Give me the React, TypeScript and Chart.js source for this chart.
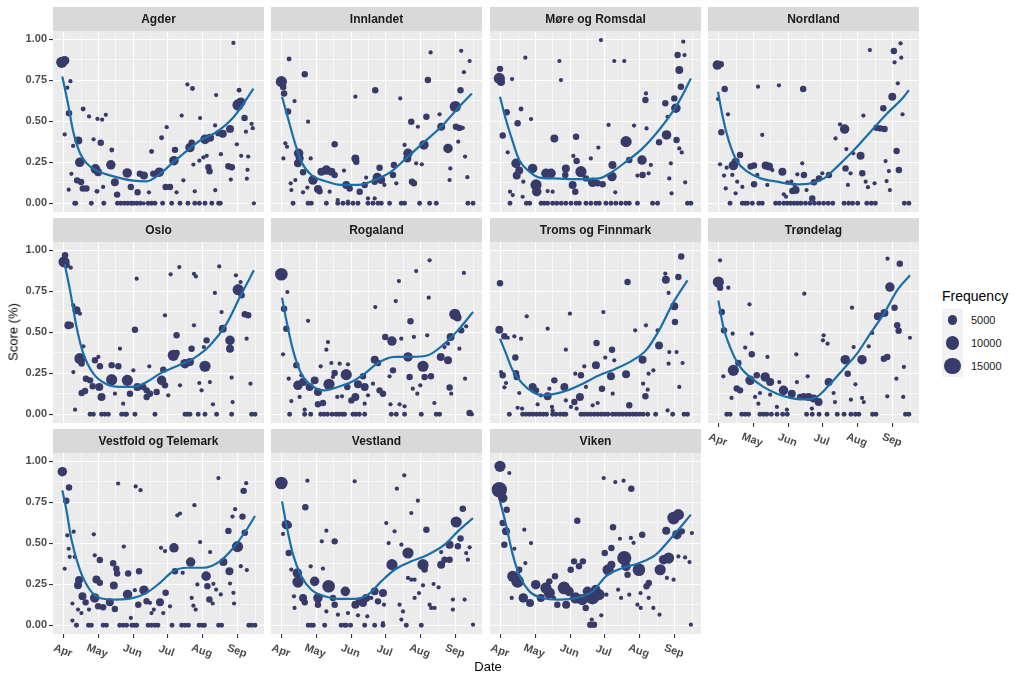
import React, { useEffect, useRef } from 'react';
import { Chart, registerables } from 'chart.js';
Chart.register(...registerables);

type Pt = [number, number, number]; // [days since 1 Apr, score, frequency]
type SP = [number, number]; // [days since 1 Apr, smoothed score]

const monthTicks = [0, 30, 61, 91, 122, 153];
const monthLabels = ['Apr', 'May', 'Jun', 'Jul', 'Aug', 'Sep'];
const monthMinor = [15, 45.5, 76, 106.5, 137.5, 168];
const scoreTicks = [0, 0.25, 0.5, 0.75, 1];
const scoreLabels = ['0.00', '0.25', '0.50', '0.75', '1.00'];
const scoreMinor = [0.125, 0.375, 0.625, 0.875];
const legendValues = [5000, 10000, 15000];

const agderPoints: Pt[] = [[-2,0.86,6500],[0.5,0.87,4500],[5.6,0.745,600],[2.9,0.705,600],[4.4,0.55,1800],[0.6,0.42,600],[16.8,0.575,900],[8,0.35,600],[12.6,0.383,3000],[13.8,0.25,4500],[6.5,0.18,600],[4.1,0.083,600],[11.5,0.14,1800],[15,0.13,1800],[16.5,0.09,1800],[19.7,0.09,1800],[22,0.53,600],[26,0.39,600],[29.4,0.515,600],[33.5,0.51,600],[36.8,0.54,600],[32.3,0.37,1800],[27.6,0.21,4500],[30,0.19,3000],[29,0.073,900],[34.4,0.1,600],[41.2,0.235,4500],[42,0.325,900],[44.7,0.128,3000],[46.7,0.053,1800],[55.6,0.185,4500],[58.8,0.1,1800],[64.7,0.067,1800],[66.7,0.18,1800],[70.3,0.17,3000],[77,0.316,900],[78.5,0.18,1800],[74.7,0.067,600],[83.8,0.19,4500],[85.8,0.4,900],[90.3,0.464,600],[89.4,0.1,1800],[93.2,0.1,1800],[97.6,0.326,1800],[96.7,0.26,4500],[99,0.067,600],[103.5,0.535,600],[105,0.14,600],[108.5,0.725,600],[113,0.7,900],[110.8,0.34,4500],[112.3,0.37,1800],[113.8,0.236,600],[115,0.073,600],[119.7,0.52,600],[119,0.26,600],[122.6,0.28,600],[125.5,0.29,600],[124,0.39,4500],[128.5,0.4,3000],[127,0.22,1800],[128,0.196,1800],[133,0.08,600],[133.8,0.66,600],[132.9,0.475,600],[138,0.3,600],[135.8,0.428,1800],[139.6,0.424,3000],[146,0.454,3000],[144.6,0.226,1800],[147.6,0.22,1800],[146.7,0.145,600],[149,0.978,600],[154,0.69,900],[152,0.36,600],[153,0.6,6500],[155.5,0.617,4500],[158.8,0.52,1800],[160,0.437,600],[155.8,0.29,600],[162,0.285,600],[161.4,0.204,600],[160.8,0.15,600],[165,0.485,600],[166,0.458,600],[167,0,600],[9.4,0,900],[10.3,0,900],[24,0,900],[35,0,900],[47,0,900],[50,0,900],[53,0,900],[56,0,900],[59,0,900],[61,0,900],[64,0,900],[67,0,900],[70,0,600],[74,0,900],[77,0,900],[80,0,900],[86.7,0,900],[94.7,0,900],[102,0,900],[109,0,900],[115,0,900],[119,0,900],[124,0,900],[130,0,900],[136,0,900],[137.5,0,900]];
const agderSmooth: SP[] = [[-1.5,0.774],[3.5,0.607],[8,0.44],[13.8,0.31],[19.7,0.245],[28.5,0.2],[46,0.16],[61,0.138],[72.6,0.134],[84.4,0.18],[96,0.25],[108,0.32],[119.7,0.383],[134,0.434],[149,0.525],[166.7,0.7]];

const innlandetPoints: Pt[] = [[-0.6,0.742,6500],[1,0.71,1800],[1.8,0.67,1800],[6.2,0.88,900],[11,0.624,600],[5.3,0.56,1800],[20,0.787,1800],[22.9,0.498,600],[2.9,0.366,600],[4.4,0.345,600],[1.2,0.274,600],[14.6,0.305,4500],[14,0.244,3000],[15.5,0.275,3000],[18.5,0.19,1800],[25.2,0.274,600],[7.6,0.122,600],[8.2,0.081,600],[11.7,0.142,600],[18.5,0.067,600],[22.3,0.096,600],[27.2,0.142,4500],[31.6,0.087,3000],[33,0.073,1800],[34.6,0.193,3000],[39,0.203,4500],[43.4,0.193,3000],[46.3,0.173,1800],[41.9,0.071,600],[46.3,0.36,1800],[54.5,0.2,600],[56.5,0.112,3000],[59.5,0.09,1800],[64.5,0.65,600],[64.5,0.274,3000],[65.3,0.254,1800],[68.3,0.071,1800],[72.7,0.112,1800],[74,0.157,600],[82,0.69,1800],[81.5,0.132,1800],[83.8,0.157,4500],[87.3,0.142,3000],[85.8,0.217,1800],[90,0.112,600],[98.4,0.234,1800],[97.6,0.173,1800],[100.5,0.122,600],[104,0.64,600],[107.8,0.356,600],[110.8,0.305,4500],[110.2,0.274,3000],[113.7,0.498,1800],[114.3,0.132,1800],[116,0.122,1800],[118,0.244,600],[123,0.238,600],[119.5,0.467,600],[124.8,0.356,4500],[127,0.528,1800],[128.3,0.752,1800],[130.7,0.92,600],[138.6,0.543,600],[140,0.467,3000],[146,0.335,4500],[148,0.213,600],[147.4,0.142,600],[152.4,0.59,6500],[153,0.467,1800],[156,0.46,1800],[159,0.46,600],[155,0.376,600],[157,0.69,1800],[160,0.8,600],[157.6,0.93,600],[165,0.868,600],[161,0.285,600],[163,0.159,600],[49,0.02,600],[58,0.01,600],[75.6,0.03,600],[81.5,0.03,600],[9.7,0,900],[22.9,0,900],[25.8,0,900],[39,0,900],[49,0,900],[53.6,0,900],[58,0,900],[62.4,0,900],[66.8,0,900],[75.6,0,900],[80,0,900],[84.4,0,900],[87.3,0,900],[94.6,0,900],[104.9,0,900],[107.8,0,900],[121,0,900],[129.8,0,900],[135.7,0,900],[163.5,0,900],[168,0,900]];
const innlandetSmooth: SP[] = [[0,0.65],[5.3,0.518],[11,0.376],[17,0.254],[25.8,0.173],[37.5,0.136],[52,0.112],[66.8,0.112],[81.5,0.142],[96,0.193],[110.8,0.285],[125.4,0.376],[140,0.467],[154.7,0.58],[167,0.67]];

const moreRomsdalPoints: Pt[] = [[-1.5,0.762,6500],[0,0.74,3000],[-0.9,0.82,1800],[9.7,0.758,600],[21.4,0.888,600],[5,0.555,1800],[17.6,0.575,900],[14.6,0.488,1800],[26.4,0.514,600],[1.5,0.413,1800],[5.9,0.311,600],[13.2,0.244,4500],[16,0.2,3000],[13.8,0.17,3000],[19.6,0.132,600],[27.8,0.213,4500],[30.8,0.112,6500],[31.4,0.071,4500],[7.9,0.071,600],[10.3,0.05,600],[19,0.04,600],[39.5,0.183,4500],[44,0.183,4500],[41,0.075,600],[45.4,0.071,600],[46.9,0.396,3000],[51.3,0.868,600],[52.7,0.752,600],[57,0.213,3000],[56.5,0.173,1800],[63.6,0.289,600],[66.5,0.258,1800],[63,0.112,3000],[65.3,0.071,1800],[70.3,0.193,6500],[66,0.406,1800],[74.7,0.152,1800],[79,0.274,600],[80.6,0.128,4500],[85,0.122,1800],[89.4,0.116,1800],[85.6,0.34,600],[87.9,0.996,600],[94.6,0.478,600],[98,0.234,3000],[97.6,0.163,4500],[99.6,0.868,600],[108.4,0.868,600],[100.5,0.067,600],[110,0.376,6500],[112.8,0.264,1800],[117,0.474,600],[120,0.169,600],[124.5,0.173,1800],[129.8,0.183,600],[124,0.264,4500],[127.5,0.67,600],[127,0.63,1800],[128,0.457,600],[131.8,0.234,600],[139,0.372,1800],[144.5,0.61,1800],[145.6,0.417,4500],[146.5,0.528,600],[148,0.152,600],[149.4,0.244,600],[150,0.061,600],[152.4,0.64,1800],[153.8,0.58,4500],[154.4,0.386,1800],[156.8,0.813,3000],[158.2,0.711,1800],[155.3,0.904,1800],[161.4,0.904,600],[160.3,0.986,600],[156.8,0.335,600],[159,0.31,600],[162,0.128,600],[7.9,0,900],[22.3,0,900],[25.2,0,900],[35.2,0,900],[38,0,900],[41,0,900],[45.4,0,900],[49,0,900],[53,0,900],[57,0,900],[61.5,0,900],[66,0,900],[68.9,0,900],[74.7,0,900],[79,0,900],[83.5,0,900],[86.4,0,900],[92.3,0,900],[96.7,0,900],[101,0,900],[105.5,0,900],[109.8,0,900],[112.8,0,900],[120,0,900],[133.3,0,900],[137.7,0,900],[164,0,900],[167,0,900]];
const moreRomsdalSmooth: SP[] = [[-0.9,0.65],[4.4,0.508],[10.3,0.376],[16,0.264],[25,0.193],[33.7,0.157],[45.4,0.152],[60,0.148],[74.7,0.148],[86.4,0.152],[98,0.193],[110,0.254],[124.5,0.335],[139,0.447],[151,0.559],[159.7,0.66],[167,0.762]];

const nordlandPoints: Pt[] = [[-1.5,0.843,4500],[1.5,0.848,1800],[5,0.697,1800],[-0.9,0.636,600],[7.9,0.543,600],[2,0.433,1800],[0.9,0.238,600],[6.7,0.217,600],[4.4,0.169,600],[5.9,0.091,600],[12.6,0.23,4500],[14.6,0.254,3000],[18.5,0.295,1800],[11.7,0.173,600],[16,0.132,600],[14.6,0.061,600],[20.5,0.1,600],[27.8,0.224,1800],[30.8,0.23,1800],[34.3,0.711,600],[38,0.417,600],[30.8,0.116,1800],[33.7,0.173,600],[41,0.23,3000],[44,0.224,3000],[46.9,0.203,600],[42.5,0.112,600],[52.7,0.72,600],[55.7,0.193,3000],[57,0.055,600],[59,0.04,600],[60,0.128,600],[63.6,0.132,600],[66.5,0.112,600],[68.9,0.177,600],[67.4,0.081,3000],[64.5,0.075,1800],[73.2,0.244,600],[74,0.697,1800],[74.7,0.173,1800],[77,0.081,600],[83.5,0.128,1800],[82,0.03,1800],[87.9,0.152,1800],[90.8,0.183,600],[96.7,0.173,1800],[102.5,0.396,600],[106.4,0.482,600],[110.5,0.453,4500],[111.3,0.213,1800],[112,0.331,600],[115.7,0.183,600],[113.4,0.112,600],[118,0.305,600],[124.5,0.29,3000],[126,0.183,1800],[127,0.535,600],[129,0.132,600],[131,0.098,600],[132.7,0.935,600],[136.8,0.122,600],[138.6,0.461,1800],[142,0.457,1800],[145.6,0.453,1800],[144.5,0.58,1800],[146.5,0.258,600],[149.4,0.197,600],[147.4,0.136,600],[150.3,0.081,600],[152.4,0.65,3000],[153.8,0.929,1800],[154.4,0.86,600],[157.3,0.732,600],[159.7,0.976,600],[160.3,0.888,600],[156.2,0.319,1800],[158.2,0.203,1800],[161.4,0.543,600],[9.7,0,900],[20.5,0,900],[23,0,900],[25,0,900],[29.3,0,900],[35,0,900],[38,0,900],[49.8,0,900],[53,0,900],[57,0,900],[60,0,900],[63,0,900],[66,0,900],[69,0,900],[72,0,900],[76,0,900],[80,0,900],[84,0,900],[88,0,900],[92,0,900],[96,0,900],[100,0,900],[110,0,900],[114,0,900],[117.5,0,900],[122,0,900],[130,0,900],[134,0,900],[137.5,0,900],[163,0,900],[167,0,900]];
const nordlandSmooth: SP[] = [[-0.9,0.68],[2.9,0.539],[8.8,0.376],[16,0.254],[25,0.193],[36.6,0.152],[51,0.132],[66,0.116],[80.6,0.122],[92.3,0.152],[104,0.224],[118.7,0.325],[133.3,0.437],[148,0.549],[162.6,0.65],[167,0.69]];

const osloPoints: Pt[] = [[0.9,0.97,1800],[0,0.93,6500],[2.3,0.91,1800],[5.9,0.894,600],[8.2,0.665,600],[11,0.634,3000],[14,0.614,600],[3.8,0.543,3000],[5.9,0.543,1800],[17,0.415,600],[8.2,0.258,600],[14,0.34,6500],[15.5,0.31,1800],[9.7,0.028,600],[19.3,0.217,1800],[22.9,0.207,1800],[15.5,0.13,1800],[18.5,0.142,1800],[27.2,0.33,1800],[30.2,0.35,600],[31.6,0.293,1800],[31,0.167,3000],[25.2,0.171,1800],[33,0.106,3000],[41.9,0.3,1800],[47.8,0.293,1800],[49.2,0.4,600],[41.9,0.211,6500],[44.8,0.126,600],[52,0.065,600],[55.7,0.207,6500],[58,0.126,1800],[61,0.268,600],[62.4,0.516,1800],[63.9,0.827,600],[64.5,0.167,3000],[69.7,0.167,1800],[72.7,0.146,1800],[72.7,0.106,1800],[75.6,0.126,1800],[75,0.293,600],[81.5,0.136,1800],[85.8,0.207,4500],[88.8,0.177,1800],[87.3,0.272,1800],[88.8,0.604,600],[91.7,0.116,600],[93.8,0.854,600],[96.1,0.36,6500],[99,0.374,1800],[99,0.482,1800],[102,0.177,600],[101.4,0.898,600],[106.4,0.309,4500],[110.8,0.319,3000],[112.2,0.4,1800],[114.3,0.543,600],[116,0.841,600],[114.3,0.857,600],[119,0.191,600],[121,0.146,600],[123,0.41,600],[124,0.293,6500],[125.4,0.451,1800],[128.3,0.197,600],[132.7,0.74,600],[131,0.061,600],[136.5,0.902,600],[138.6,0.624,600],[139.6,0.522,3000],[146,0.451,4500],[146,0.4,3000],[147.4,0.224,600],[148.3,0.075,600],[151.2,0.848,600],[153.2,0.76,6500],[156.2,0.726,1800],[155.3,0.807,600],[159,0.61,1800],[162,0.604,1800],[160.6,0.461,600],[164,0.187,600],[22.9,0,900],[25.8,0,900],[33,0,900],[36,0,900],[39,0,900],[50.7,0,900],[53.6,0,900],[55,0,900],[62.4,0,900],[80,0,900],[106.4,0,900],[108.4,0,900],[110.8,0,900],[118,0,900],[124,0,900],[134.2,0,900],[147.4,0,900],[165,0,900],[168,0,900]];
const osloSmooth: SP[] = [[0.6,0.915],[5.3,0.756],[11,0.533],[17,0.37],[25.8,0.248],[37.5,0.183],[49.2,0.167],[61,0.167],[72.7,0.197],[84.4,0.248],[99,0.293],[113.7,0.34],[128.3,0.42],[143,0.553],[154.7,0.715],[167,0.878]];

const rogalandPoints: Pt[] = [[-0.6,0.854,8500],[4.7,0.746,600],[1.8,0.644,1800],[3.8,0.522,1800],[0.9,0.366,600],[5.9,0.217,600],[12.6,0.3,1800],[22.9,0.57,600],[17,0.238,600],[14,0.177,4500],[18.5,0.197,3000],[15.5,0.106,600],[8.2,0.081,600],[19.9,0.028,600],[24.3,0.167,3000],[28.7,0.207,3000],[31.6,0.136,3000],[34,0.293,600],[31.6,0.061,1800],[36,0.069,1800],[39,0.394,600],[40.4,0.441,600],[41.3,0.183,6500],[43.4,0.313,600],[44.8,0.228,600],[46.3,0.252,1800],[50.7,0.309,600],[48.6,0.106,600],[52.7,0.11,600],[56.5,0.242,6500],[58,0.305,600],[57.4,0.167,1800],[64.5,0.106,3000],[61,0.085,1800],[66.8,0.183,3000],[71.2,0.232,1800],[72.7,0.167,3000],[75.6,0.116,600],[72.7,0.065,600],[80,0.187,600],[82,0.654,600],[81.5,0.333,3000],[84.4,0.313,1800],[85.8,0.146,1800],[88.8,0.126,1800],[90.8,0.472,1800],[94.6,0.232,600],[96.7,0.447,4500],[97.6,0.268,1800],[100,0.691,600],[102.8,0.813,600],[104.9,0.461,600],[95.4,0.061,600],[103.4,0.061,600],[107.8,0.049,600],[110.8,0.35,4500],[112.2,0.228,1800],[113,0.567,1800],[115,0.156,600],[116,0.472,600],[118,0.874,600],[119,0.126,600],[121.6,0.177,600],[124,0.293,6500],[125.4,0.228,1800],[131,0.232,1800],[127.7,0.482,600],[129,0.711,600],[129.8,0.939,600],[134,0.069,600],[139.6,0.35,3000],[146,0.33,3000],[142.9,0.41,600],[146,0.431,600],[147.4,0.163,1800],[148.8,0.126,600],[148.3,0.472,3000],[152,0.61,6500],[154.4,0.59,3000],[156,0.4,600],[157.6,0.512,1800],[160,0.862,600],[161,0.217,600],[162,0.537,600],[165,0.008,1800],[167,0,600],[6.7,0,900],[19.9,0,900],[25.2,0,900],[34,0,900],[37,0,900],[40,0,900],[44,0,900],[47.5,0,900],[50,0,900],[53,0,900],[55,0,900],[62.4,0,900],[65,0,900],[68,0,900],[72.7,0,900],[96.1,0,900],[100.5,0,900],[107.8,0,900],[122.5,0,900],[135.7,0,900],[138.6,0,900]];
const rogalandSmooth: SP[] = [[0,0.711],[3.8,0.573],[9.7,0.39],[17,0.248],[25.8,0.177],[37.5,0.146],[49.2,0.167],[61,0.197],[72.7,0.248],[84.4,0.313],[99,0.35],[113.7,0.35],[128.3,0.36],[143,0.431],[154.7,0.512],[168,0.624]];

const tromsPoints: Pt[] = [[-0.9,0.8,1800],[-1.5,0.516,3000],[2.9,0.476,1800],[5.9,0.467,600],[11.7,0.476,600],[17.6,0.461,600],[22.6,0.598,600],[12.6,0.346,1800],[0,0.258,600],[1.5,0.238,1800],[4.4,0.191,600],[3,0.165,600],[13.8,0.228,1800],[13.2,0.25,1800],[16,0.13,600],[27.8,0.167,3000],[30.8,0.146,1800],[14.6,0.04,600],[18.5,0.035,600],[32.2,0.061,600],[41,0.522,600],[41,0.11,3000],[42.5,0.156,600],[35,0.116,600],[45.4,0.024,600],[44.8,0.045,600],[46.9,0.207,1800],[55.7,0.167,3000],[57,0.394,600],[57,0.085,600],[60.6,0.614,600],[61.5,0.045,600],[65.3,0.248,600],[70.3,0.238,1800],[64.5,0.075,1800],[66.5,0.035,600],[69.4,0.106,3000],[73.2,0.293,600],[74.7,0.167,600],[80.6,0.055,600],[85,0.069,600],[84,0.435,1800],[83.5,0.3,3000],[88.8,0.156,1800],[90,0.624,600],[91.7,0.346,600],[96.7,0.232,3000],[97.6,0.394,1800],[99.6,0.329,600],[98.2,0.126,600],[110,0.244,3000],[111.3,0.807,1800],[112.8,0.055,1800],[118,0.512,600],[124.5,0.333,3000],[125,0.187,600],[127.5,0.543,600],[127,0.11,1800],[129,0.15,600],[129.8,0.248,600],[134,0.268,600],[137.7,0.512,600],[139,0.42,3000],[144.5,0.858,600],[145,0.821,3000],[147.4,0.74,600],[148,0.38,600],[147.4,0.309,600],[146.5,0.024,600],[152.4,0.659,3000],[153,0.563,1800],[154.4,0.38,600],[156,0.837,1800],[158.5,0.963,1800],[156.8,0.167,600],[159.7,0.313,600],[7.3,0,900],[19,0,900],[22,0,900],[25,0,900],[28,0,900],[31,0,900],[34,0,900],[37,0,900],[40,0,900],[45.4,0,900],[48.3,0,900],[52,0,900],[55,0,900],[57,0,900],[70.3,0,900],[73,0,900],[76,0,900],[79,0,900],[82,0,900],[85,0,900],[88,0,900],[91,0,900],[94,0,900],[98,0,900],[101,0,900],[104,0,900],[107,0,900],[110,0,900],[113,0,900],[116,0,900],[119,0,900],[122,0,900],[125,0,900],[129,0,900],[136,0,900],[151,0,900],[161,0,900],[164,0,900]];
const tromsSmooth: SP[] = [[-0.9,0.461],[4.4,0.37],[10.3,0.268],[19,0.187],[27.8,0.136],[36.6,0.116],[48.3,0.126],[60,0.15],[71.8,0.187],[86.4,0.238],[101,0.278],[115.7,0.329],[127.5,0.39],[139,0.512],[151,0.675],[164,0.817]];

const trondelagPoints: Pt[] = [[0.9,0.939,600],[-0.6,0.807,6500],[0.9,0.772,1800],[8.2,0.772,600],[2.4,0.624,1800],[4.4,0.512,1800],[12,0.492,600],[3.8,0.232,600],[12.6,0.268,6500],[17,0.313,1800],[15.6,0.157,1800],[18.5,0.146,1800],[11,0.1,600],[23,0.407,600],[26.8,0.671,600],[27.3,0.207,4500],[33.2,0.238,1800],[28.8,0.492,600],[28.8,0.366,1800],[31.7,0.106,600],[34.6,0.065,600],[36,0.13,600],[40.6,0.228,4500],[45,0.197,3000],[42.6,0.35,600],[45,0.12,600],[50.9,0.045,600],[53,0.197,600],[56.7,0.146,4500],[59.7,0.028,600],[64,0.126,3000],[68,0.366,600],[68.5,0.197,600],[71.4,0.106,1800],[74.4,0.11,1800],[75,0.736,600],[78,0.232,600],[78.8,0.106,3000],[83.2,0.096,3000],[87.6,0.075,3000],[81.7,0.035,600],[91.4,0.451,600],[92,0.482,600],[95.5,0.431,600],[96.4,0.197,3000],[100.8,0.13,600],[102,0.075,600],[111,0.333,4500],[113.2,0.248,1800],[117,0.65,600],[118.4,0.41,600],[120,0.183,600],[116,0.089,600],[125.8,0.333,4500],[127.3,0.075,600],[125.8,0.1,600],[131.7,0.415,600],[134.7,0.496,600],[139.7,0.598,3000],[145.5,0.618,3000],[145,0.339,1800],[148,0.35,1800],[148,0.11,600],[150.3,0.776,4500],[148.2,0.949,600],[154.4,0.65,1800],[156.7,0.543,1800],[158,0.51,1800],[156,0.217,600],[162.6,0.289,600],[159,0.919,1800],[162,0.106,600],[167.9,0.467,600],[6.8,0,900],[9.7,0,900],[20,0,900],[23,0,900],[26,0,900],[36,0,900],[39,0,900],[42,0,900],[46,0,900],[51,0,900],[56,0,900],[60,0,900],[77,0,900],[82,0,900],[88,0,900],[95,0,900],[104,0,900],[110,0,900],[116,0,900],[120,0,900],[123,0,900],[135,0,900],[138,0,900],[164,0,900],[167,0,900]];
const trondelagSmooth: SP[] = [[-0.6,0.695],[3.8,0.533],[9.7,0.41],[18.5,0.289],[27.3,0.228],[39,0.167],[51,0.126],[62.6,0.1],[74.4,0.091],[86,0.106],[98,0.187],[109.7,0.278],[121.4,0.37],[133,0.492],[145,0.614],[156.7,0.756],[168,0.848]];

const vestfoldPoints: Pt[] = [[-1.5,0.937,4500],[2,0.76,1800],[4.4,0.84,1800],[2.9,0.549,600],[4.1,0.467,600],[5,0.418,600],[9.4,0.418,600],[8.5,0.571,600],[0.6,0.345,600],[13.2,0.276,3000],[12.3,0.245,3000],[16.2,0.178,3000],[19,0.14,1800],[7.4,0.133,600],[12.3,0.096,600],[15.3,0.075,600],[7.4,0.029,600],[11,0.002,600],[22,0.096,600],[26.2,0.555,600],[27,0.427,600],[28.5,0.28,3000],[31.5,0.26,1800],[27,0.167,4500],[30,0.116,1800],[34.4,0.11,1800],[31.5,0.398,1800],[43.2,0.378,1800],[46,0.345,1800],[46.7,0.316,1800],[43.8,0.243,3000],[40.3,0.141,3000],[44.7,0.1,1800],[47.6,0.865,600],[52.6,0.48,600],[56.4,0.316,1800],[55.9,0.188,4500],[58.8,0.045,600],[62.3,0.214,600],[63,0.847,600],[67.3,0.824,600],[66,0.33,1800],[65.3,0.126,1800],[70.3,0.214,4500],[72.6,0.147,1800],[75.6,0.137,600],[77,0.075,600],[79,0.096,600],[84.4,0.141,3000],[85.3,0.473,600],[88.8,0.453,600],[89.4,0.198,1800],[87.3,0.075,600],[93.2,0.116,600],[96.7,0.473,4500],[97.6,0.33,1800],[99.7,0.671,600],[102,0.682,600],[104.4,0.32,600],[111.4,0.386,4500],[112.3,0.167,600],[113.8,0.12,600],[115.8,0.096,600],[114.7,0.733,600],[117.3,0.249,600],[119.7,0.508,600],[125,0.3,4500],[126.1,0.239,1800],[128.5,0.447,600],[127.9,0.157,1800],[130.8,0.133,600],[131.4,0.253,600],[133.8,0.218,600],[135.8,0.898,600],[137.9,0.188,600],[140.2,0.386,3000],[144.6,0.576,1800],[145.5,0.33,3000],[146,0.255,600],[148.2,0.663,600],[149,0.198,600],[149.6,0.133,600],[150.5,0.708,600],[152.6,0.48,6500],[155.5,0.361,600],[157,0.663,1800],[158,0.82,1800],[160.2,0.867,600],[159,0.565,1800],[160.8,0.337,600],[10.9,0,900],[21.5,0,900],[24,0,900],[34.4,0,900],[37.3,0,900],[49,0,900],[52,0,900],[55,0,900],[59.7,0,900],[62,0,900],[63.9,0,900],[74,0,900],[77,0,900],[80,0,900],[82.6,0,900],[95,0,900],[103.5,0,900],[106.5,0,900],[109.5,0,900],[118.8,0,900],[121.6,0,900],[123.5,0,900],[136,0,900],[138.6,0,900],[162.5,0,900],[165,0,900],[168,0,900]];
const vestfoldSmooth: SP[] = [[-1.5,0.824],[2,0.708],[6.5,0.524],[13.8,0.341],[22.6,0.218],[31.5,0.167],[46,0.157],[61,0.167],[72.6,0.198],[84.4,0.259],[96,0.33],[108,0.351],[122.6,0.351],[137.3,0.392],[149,0.473],[160.8,0.586],[168,0.667]];

const vestlandPoints: Pt[] = [[-0.6,0.868,8500],[22.3,0.882,600],[20.5,0.72,1800],[63.9,0.878,600],[3.8,0.614,4500],[5.9,0.61,1800],[0.9,0.557,600],[39,0.577,600],[35,0.512,600],[46.3,0.512,1800],[5.9,0.441,1800],[8.2,0.34,600],[13.5,0.319,4500],[14,0.264,6500],[25.2,0.36,600],[10.5,0.177,600],[11,0.106,600],[18.5,0.167,3000],[20,0.14,1800],[28.7,0.268,4500],[36,0.346,600],[31.6,0.167,4500],[31.6,0.126,1800],[41,0.238,8500],[44.8,0.167,1800],[46.3,0.126,1800],[39,0.085,600],[49.2,0.065,600],[55.7,0.207,4500],[58,0.075,600],[64.5,0.126,3000],[68.3,0.146,3000],[71.2,0.136,3000],[74,0.167,3000],[66.8,0.061,600],[75,0.055,600],[78.5,0.167,600],[81.5,0.207,3000],[88.8,0.197,3000],[84.4,0.146,1800],[89.7,0.126,600],[88.8,0.014,600],[91.7,0.624,600],[93.8,0.502,600],[96.7,0.37,6500],[99,0.573,600],[101,0.833,600],[103.4,0.126,600],[105,0.492,600],[105,0.035,600],[106.4,0.085,600],[107.5,0.915,600],[110.8,0.441,6500],[110.8,0.289,600],[113.7,0.278,600],[116.6,0.278,600],[113.7,0.685,600],[116.6,0.167,600],[120.5,0.197,600],[119.5,0.76,600],[124,0.37,6500],[125.4,0.34,1800],[124,0.244,600],[127,0.583,1800],[129.8,0.126,600],[131.2,0.106,600],[133.3,0.252,600],[137.7,0.232,600],[134.2,0.106,600],[140,0.37,3000],[143,0.4,1800],[140,0.447,600],[147.4,0.4,1800],[147.4,0.492,3000],[150.3,0.157,600],[150.3,0.096,600],[153.2,0.63,6500],[154.7,0.482,1800],[157,0.53,1800],[159,0.711,1800],[160.6,0.157,600],[162,0.441,600],[163.5,0.4,600],[165,0.476,600],[168,0.004,600],[23,0,900],[25.5,0,900],[27.5,0,900],[37.5,0,900],[52,0,900],[55,0,900],[56.5,0,900],[60.3,0,900],[72.7,0,900],[81.5,0,900],[88.8,0,900],[109.3,0,900],[122.5,0,900]];
const vestlandSmooth: SP[] = [[0,0.756],[3.8,0.614],[9.7,0.431],[17,0.299],[25.8,0.217],[37.5,0.177],[49.2,0.161],[64,0.161],[75.6,0.187],[87.3,0.268],[99,0.339],[113.7,0.39],[128.3,0.431],[143,0.492],[154.7,0.573],[168,0.654]];

const vikenPoints: Pt[] = [[-0.9,0.97,6500],[7.3,0.929,600],[-1.5,0.827,13000],[1.5,0.776,4500],[5,0.705,1800],[1.5,0.624,1800],[4.4,0.573,3000],[2.9,0.492,1800],[11.7,0.467,600],[20.5,0.583,600],[26.4,0.502,600],[21.4,0.38,600],[16,0.339,1800],[10.3,0.299,6500],[14.6,0.268,8500],[9.4,0.167,600],[19.6,0.167,4500],[25.5,0.136,3000],[30.5,0.248,4500],[39.5,0.228,6500],[42.5,0.197,6500],[35,0.167,3000],[42.5,0.268,1800],[47.5,0.299,1800],[46.6,0.167,600],[49.5,0.126,1800],[55.4,0.228,8500],[59.8,0.207,4500],[57.3,0.126,3000],[61.3,0.339,1800],[64.2,0.39,1800],[68.6,0.36,1800],[72,0.39,1800],[67.1,0.638,1800],[65.6,0.167,6500],[71.5,0.157,6500],[80.4,0.171,11000],[86.3,0.187,6500],[83.3,0.218,4500],[76,0.207,4500],[74.5,0.106,1800],[79.8,0.035,600],[81.8,0.004,1800],[78.5,0.004,1800],[88.2,0.061,600],[90.3,0.898,600],[100.5,0.874,600],[107.8,0.882,600],[114.6,0.833,1800],[91.2,0.441,1800],[94.2,0.339,6500],[97.1,0.37,3000],[92.7,0.187,600],[97.1,0.472,1800],[98.5,0.598,1800],[103,0.217,600],[104.6,0.528,600],[105.6,0.167,600],[108.4,0.41,11000],[110,0.36,4500],[111.3,0.309,1800],[112.8,0.187,600],[114.2,0.533,600],[116.6,0.503,600],[121.3,0.339,8500],[122.7,0.197,600],[124.2,0.553,1800],[128,0.238,1800],[130,0.258,1800],[129.9,0.167,600],[120,0.126,600],[122.9,0.106,600],[134,0.106,600],[139.4,0.065,600],[140,0.339,6500],[143,0.4,4500],[145.9,0.289,600],[147.4,0.41,6500],[145.3,0.577,3000],[151.8,0.654,8500],[156,0.675,6500],[154.7,0.553,4500],[159,0.573,1800],[156,0.42,600],[161.9,0.414,600],[151.8,0.278,600],[165.8,0.386,600],[167.9,0.563,600],[167,0.004,600]];
const vikenSmooth: SP[] = [[-0.9,0.756],[4.4,0.614],[10.3,0.431],[16,0.309],[25,0.207],[36.6,0.167],[51.3,0.157],[66,0.167],[80.6,0.207],[92.3,0.299],[107,0.35],[121.6,0.38],[136.2,0.431],[151,0.543],[167,0.675]];

const panels = [
  { name: 'Agder', points: agderPoints, smooth: agderSmooth },
  { name: 'Innlandet', points: innlandetPoints, smooth: innlandetSmooth },
  { name: 'Møre og Romsdal', points: moreRomsdalPoints, smooth: moreRomsdalSmooth },
  { name: 'Nordland', points: nordlandPoints, smooth: nordlandSmooth },
  { name: 'Oslo', points: osloPoints, smooth: osloSmooth },
  { name: 'Rogaland', points: rogalandPoints, smooth: rogalandSmooth },
  { name: 'Troms og Finnmark', points: tromsPoints, smooth: tromsSmooth },
  { name: 'Trøndelag', points: trondelagPoints, smooth: trondelagSmooth },
  { name: 'Vestfold og Telemark', points: vestfoldPoints, smooth: vestfoldSmooth },
  { name: 'Vestland', points: vestlandPoints, smooth: vestlandSmooth },
  { name: 'Viken', points: vikenPoints, smooth: vikenSmooth },
];

const FONT = '"Liberation Sans", Arial, Helvetica, sans-serif';
const POINT_COLOR = '#383b6a';
const LINE_COLOR = '#1b6fa8';
const COL_LEFT = [53, 271, 490, 708];
const PLOT_TOP = [31, 242, 453];
const PW = 211;
const PH = 181;
const STRIP = 24;
const YAX = 53;
const XAX = 42;
const X_MIN = -9.7;
const X_MAX = 175.9;
const Y_MIN = -0.053;
const Y_MAX = 1.051;

const radiusFor = (f: number) => 0.6 + 0.062 * Math.sqrt(f);

const panelDeco = {
  id: 'panelDeco',
  beforeDraw(chart: any, _args: any, opts: any) {
    const { ctx, chartArea: a } = chart;
    ctx.save();
    ctx.fillStyle = '#EBEBEB';
    ctx.fillRect(a.left, a.top, a.right - a.left, a.bottom - a.top);
    ctx.fillStyle = '#D9D9D9';
    ctx.fillRect(a.left, a.top - STRIP, a.right - a.left, STRIP);
    ctx.fillStyle = '#1A1A1A';
    ctx.font = `bold 12px ${FONT}`;
    ctx.textAlign = 'center';
    ctx.textBaseline = 'middle';
    ctx.fillText(opts.title, (a.left + a.right) / 2, a.top - STRIP / 2 + 0.5);
    ctx.restore();
  },
  afterDraw(chart: any, _args: any, opts: any) {
    if (!opts.showX) return;
    const { ctx, chartArea: a } = chart;
    const xs = chart.scales.x;
    ctx.save();
    ctx.fillStyle = '#4D4D4D';
    ctx.font = `bold 11px ${FONT}`;
    ctx.textAlign = 'center';
    ctx.textBaseline = 'middle';
    monthTicks.forEach((v, i) => {
      const px = xs.getPixelForValue(v);
      ctx.save();
      ctx.translate(px - 1, a.bottom + 17);
      ctx.rotate((20 * Math.PI) / 180);
      ctx.fillText(monthLabels[i], 0, 0);
      ctx.restore();
    });
    ctx.restore();
  },
};

function Panel({ index }: { index: number }) {
  const ref = useRef<HTMLCanvasElement | null>(null);
  const p = panels[index];
  const row = Math.floor(index / 4);
  const col = index % 4;
  const bottom = row === 2 || (row === 1 && col === 3);
  const left = COL_LEFT[col] - (col === 0 ? YAX : 0);
  const top = PLOT_TOP[row] - STRIP;
  const width = PW + (col === 0 ? YAX : 0);
  const height = STRIP + PH + (bottom ? XAX : 0);

  useEffect(() => {
    if (!ref.current) return;
    const isMinor = (c: any) => !!(c.tick && c.tick.minor);
    const chart = new Chart(ref.current, {
      type: 'bubble',
      data: {
        datasets: [
          {
            type: 'line',
            data: p.smooth.map(([x, y]) => ({ x, y })),
            borderColor: LINE_COLOR,
            borderWidth: 2.2,
            pointRadius: 0,
            cubicInterpolationMode: 'monotone',
            fill: false,
            order: 0,
          } as any,
          {
            type: 'bubble',
            data: p.points.map(([x, y, f]) => ({ x, y, r: radiusFor(f) })),
            backgroundColor: POINT_COLOR,
            borderWidth: 0,
            hoverRadius: 0,
            order: 1,
          } as any,
        ],
      },
      options: {
        animation: false,
        responsive: false,
        events: [],
        layout: { padding: { top: STRIP, left: 0, right: 0, bottom: 0 }, autoPadding: false },
        plugins: {
          legend: { display: false },
          tooltip: { enabled: false },
          panelDeco: { title: p.name, showX: bottom },
        } as any,
        scales: {
          x: {
            type: 'linear',
            min: X_MIN,
            max: X_MAX,
            border: { display: false },
            afterBuildTicks: (s: any) => {
              s.ticks = [
                ...monthTicks.map((v) => ({ value: v })),
                ...monthMinor.map((v) => ({ value: v, minor: true })),
              ].sort((a, b) => a.value - b.value);
            },
            afterFit: (s: any) => {
              s.height = bottom ? XAX : 0;
              s.paddingLeft = 0;
              s.paddingRight = 0;
            },
            ticks: { display: false, autoSkip: false },
            grid: {
              color: '#FFFFFF',
              lineWidth: (c: any) => (isMinor(c) ? 0.55 : 1.1),
              drawTicks: bottom,
              tickLength: 4,
              tickWidth: 1.1,
              tickColor: (c: any) => (isMinor(c) ? 'rgba(0,0,0,0)' : '#333333'),
            },
          },
          y: {
            type: 'linear',
            min: Y_MIN,
            max: Y_MAX,
            border: { display: false },
            afterBuildTicks: (s: any) => {
              s.ticks = [
                ...scoreTicks.map((v) => ({ value: v })),
                ...scoreMinor.map((v) => ({ value: v, minor: true })),
              ].sort((a, b) => a.value - b.value);
            },
            afterFit: (s: any) => {
              s.width = col === 0 ? YAX : 0;
              s.paddingTop = 0;
              s.paddingBottom = 0;
            },
            ticks: {
              display: col === 0,
              autoSkip: false,
              padding: 2,
              color: '#4D4D4D',
              font: { family: FONT, size: 11, weight: 'bold' },
              callback: (v: any) => {
                const i = scoreTicks.indexOf(Number(v));
                return i >= 0 ? scoreLabels[i] : '';
              },
            },
            grid: {
              color: '#FFFFFF',
              lineWidth: (c: any) => (isMinor(c) ? 0.55 : 1.1),
              drawTicks: col === 0,
              tickLength: 4,
              tickWidth: 1.1,
              tickColor: (c: any) => (isMinor(c) ? 'rgba(0,0,0,0)' : '#333333'),
            },
          },
        } as any,
      },
      plugins: [panelDeco as any],
    });
    return () => chart.destroy();
  }, []);

  return (
    <canvas
      ref={ref}
      width={width}
      height={height}
      style={{ position: 'absolute', left, top, width, height }}
    />
  );
}

export default function App() {
  return (
    <div
      style={{
        position: 'fixed',
        left: 0,
        top: 0,
        width: 1024,
        height: 683,
        background: '#FFFFFF',
        fontFamily: FONT,
        overflow: 'hidden',
      }}
    >
      {panels.map((_, i) => (
        <Panel key={i} index={i} />
      ))}
      <div
        style={{
          position: 'absolute',
          left: 13,
          top: 332,
          transform: 'translate(-50%, -50%) rotate(-90deg)',
          fontSize: 13,
          color: '#000',
          whiteSpace: 'nowrap',
        }}
      >
        Score (%)
      </div>
      <div
        style={{
          position: 'absolute',
          left: 488,
          top: 666,
          transform: 'translate(-50%, -50%)',
          fontSize: 13,
          color: '#000',
          whiteSpace: 'nowrap',
        }}
      >
        Date
      </div>
      <div
        style={{ position: 'absolute', left: 942, top: 288, fontSize: 14, color: '#000', whiteSpace: 'nowrap' }}
      >
        Frequency
      </div>
      {legendValues.map((v, i) => {
        const r = radiusFor(v);
        const keyTop = 309 + i * 22.7;
        return (
          <React.Fragment key={v}>
            <div
              style={{ position: 'absolute', left: 942, top: keyTop, width: 21, height: 22.7, background: '#F2F2F2' }}
            >
              <div
                style={{
                  position: 'absolute',
                  left: 10.5 - r,
                  top: 11.35 - r,
                  width: 2 * r,
                  height: 2 * r,
                  borderRadius: '50%',
                  background: POINT_COLOR,
                }}
              />
            </div>
            <div
              style={{
                position: 'absolute',
                left: 971,
                top: keyTop + 11.35,
                transform: 'translateY(-50%)',
                fontSize: 11,
                color: '#1A1A1A',
                whiteSpace: 'nowrap',
              }}
            >
              {v}
            </div>
          </React.Fragment>
        );
      })}
    </div>
  );
}
